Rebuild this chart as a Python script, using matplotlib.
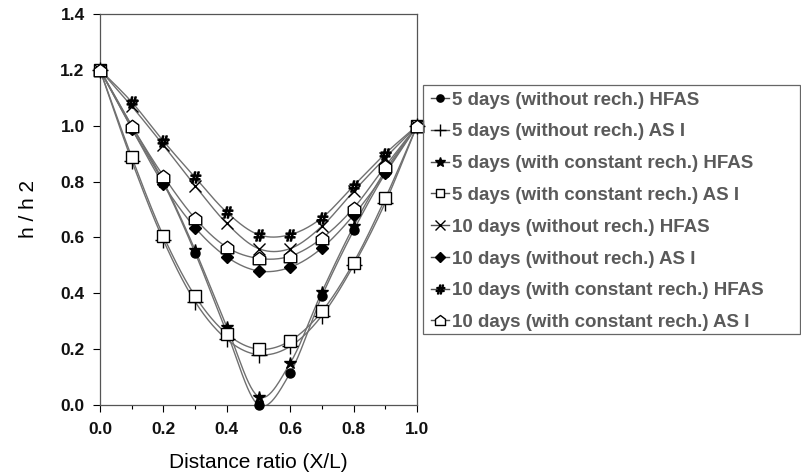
import numpy as np
import matplotlib
matplotlib.use("Agg")
import matplotlib.pyplot as plt
from matplotlib.path import Path
from matplotlib.patches import Rectangle

x_ratio = [0.0, 0.1, 0.2, 0.3, 0.4, 0.5, 0.6, 0.7, 0.8, 0.9, 1.0]

d5_norech_hfas = [1.2, 0.99, 0.795, 0.545, 0.26, 0.0, 0.115, 0.39, 0.625, 0.83, 1.0]
d5_norech_as1 = [1.2, 0.875, 0.59, 0.37, 0.235, 0.18, 0.21, 0.32, 0.50, 0.725, 1.0]
d5_rech_hfas = [1.2, 1.0, 0.80, 0.555, 0.28, 0.03, 0.15, 0.405, 0.64, 0.84, 1.0]
d5_rech_as1 = [1.2, 0.888, 0.605, 0.39, 0.255, 0.20, 0.23, 0.335, 0.51, 0.74, 1.0]
d10_norech_hfas = [1.2, 1.07, 0.93, 0.785, 0.65, 0.56, 0.56, 0.64, 0.765, 0.885, 1.0]
d10_norech_as1 = [1.2, 0.99, 0.79, 0.635, 0.53, 0.48, 0.493, 0.562, 0.68, 0.83, 1.0]
d10_rech_hfas = [1.2, 1.085, 0.945, 0.815, 0.69, 0.61, 0.61, 0.67, 0.785, 0.9, 1.0]
d10_rech_as1 = [1.2, 1.0, 0.82, 0.668, 0.565, 0.525, 0.533, 0.597, 0.705, 0.855, 1.0]

labels = [
    "5 days (without rech.) HFAS",
    "5 days (without rech.) AS I",
    "5 days (with constant rech.) HFAS",
    "5 days (with constant rech.) AS I",
    "10 days (without rech.) HFAS",
    "10 days (without rech.) AS I",
    "10 days (with constant rech.) HFAS",
    "10 days (with constant rech.) AS I",
]
series = [d5_norech_hfas, d5_norech_as1, d5_rech_hfas, d5_rech_as1,
          d10_norech_hfas, d10_norech_as1, d10_rech_hfas, d10_rech_as1]

# little house shape for the last series
house = Path([(-1, -1), (1, -1), (1, 0.25), (0, 1), (-1, 0.25), (-1, -1)],
             [Path.MOVETO, Path.LINETO, Path.LINETO, Path.LINETO, Path.LINETO, Path.CLOSEPOLY])

# marker, size, face colour
styles = [
    ("o", 6.5, "black"),
    ("+", 11, "none"),
    ("*", 9, "black"),
    ("s", 8, "white"),
    ("x", 9, "none"),
    ("D", 6, "black"),
    (r"$\#$", 8, "black"),
    (house, 9, "white"),
]


def smooth(xs, ys, n=30):
    # excel-style smoothed line (catmull-rom as bezier)
    p = np.column_stack([xs, ys]).astype(float)
    p = np.vstack([p[0], p, p[-1]])
    out = []
    t = np.linspace(0, 1, n)[:, None]
    for i in range(1, len(p) - 2):
        p0, p1, p2, p3 = p[i - 1], p[i], p[i + 1], p[i + 2]
        c1 = p1 + (p2 - p0) / 6
        c2 = p2 - (p3 - p1) / 6
        seg = ((1 - t) ** 3) * p1 + 3 * ((1 - t) ** 2) * t * c1 + 3 * (1 - t) * t ** 2 * c2 + t ** 3 * p2
        out.append(seg)
    out = np.vstack(out)
    return out[:, 0], out[:, 1]


plt.rcParams['font.family'] = ['Liberation Sans', 'DejaVu Sans']

W, H = 801, 475
fig = plt.figure(figsize=(W / 100, H / 100), dpi=100)
ax = fig.add_axes([100 / W, 1 - 405 / H, 317 / W, 391 / H])

handles = []
for ys, lab, (m, ms, fc) in zip(series, labels, styles):
    sx, sy = smooth(x_ratio, ys)
    ax.plot(sx, sy, color="#707070", lw=1.0, zorder=2)
    ax.plot(x_ratio, ys, ls="none", marker=m, ms=ms, mfc=fc, mec="black",
            mew=1.0, color="black", clip_on=False, zorder=3)
    h, = ax.plot([], [], color="#505050", lw=1.0, marker=m, ms=ms * 0.8,
                 mfc=fc, mec="black", mew=1.0, label=lab)
    handles.append(h)

ax.set_xlim(0, 1.0)
ax.set_ylim(0, 1.4)
ax.set_xticks(np.arange(0, 1.01, 0.2))
ax.set_xticks(np.arange(0.1, 1.0, 0.2), minor=True)
ax.set_yticks(np.arange(0, 1.41, 0.2))
ax.xaxis.set_major_formatter(matplotlib.ticker.FormatStrFormatter("%.1f"))
ax.yaxis.set_major_formatter(matplotlib.ticker.FormatStrFormatter("%.1f"))
ax.tick_params(axis="both", which="major", direction="out", length=5, width=0.8,
               labelsize=12.5, labelcolor="#111111")
ax.tick_params(axis="x", which="major", pad=7)
ax.tick_params(axis="y", which="major", pad=6)
ax.tick_params(axis="x", which="minor", direction="out", length=3, width=0.8)
for lab in ax.get_xticklabels() + ax.get_yticklabels():
    lab.set_fontweight("bold")
for sp in ax.spines.values():
    sp.set_color("#555555")
    sp.set_linewidth(0.9)

ax.set_xlabel("Distance ratio (X/L)", fontsize=15, labelpad=12)
ax.set_ylabel("h / h 2", fontsize=15, labelpad=16)

# legend box drawn by hand so it reaches the right edge
fig.patches.append(Rectangle((423 / W, 1 - 334 / H), 377 / W, 249 / H,
                             transform=fig.transFigure, fill=False,
                             edgecolor="#666666", lw=0.9))
leg = fig.legend(handles=handles, loc="upper left",
                 bbox_to_anchor=(425 / W, 1 - 86 / H),
                 bbox_transform=fig.transFigure, frameon=False,
                 prop={"size": 13.5, "weight": "bold"}, labelcolor="#5a5a5a",
                 handlelength=1.0, handletextpad=0.15, labelspacing=0.78,
                 borderpad=0.3, borderaxespad=0, numpoints=1)

plt.savefig("out.png", dpi=100)
